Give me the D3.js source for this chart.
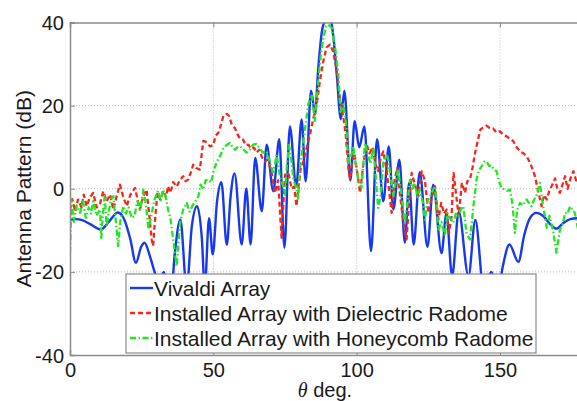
<!DOCTYPE html>
<html>
<head>
<meta charset="utf-8">
<script src="https://cdn.jsdelivr.net/npm/d3@7"></script>
<style>
  html, body { margin: 0; padding: 0; background: #fff; }
  svg { display: block; }
  text { font-family: "Liberation Sans", Arial, Helvetica, sans-serif; fill: #1a1a1a; }
</style>
</head>
<body>
<svg id="chart" width="577" height="401"></svg>
<script>
// ---------------- data ----------------
const xTicks = [0, 50, 100, 150];
const yTicks = [-40, -20, 0, 20, 40];
const seriesNames = ["Vivaldi Array", "Installed Array with Dielectric Radome", "Installed Array with Honeycomb Radome"];

const vivaldiTheta = [0,2,4.5,7,10.8,13.5,16.7,19,21,23,24.8,26,28,30,31.2,32.7,34.8,36.5,38.5,40.7,42.5,44.3,46,47,48.5,49.8,51.3,52.8,54.7,56,57.4,59.9,61.5,63,64.6,66.9,68.6,70.9,73,74.8,76.7,78.9,80.8,82.2,84.1,85.5,86.5,87.8,89,90,91,91.8,93,94.5,95.7,97.8,99.3,100.9,102.7,105,107.1,109.3,111.2,112.8,114.9,116.8,118.3,119.9,122,124.7,126.7,129.6,131.3,133.3,135.6,139,141.4,144.3,147,149.3,151,153.3,156.4,158.5,160.5,162.7,165,167.5,169.7,172,174.5,177,180];
const vivaldiDb = [-7.5,-7.3,-7.6,-8.5,-9.8,-8,-5.7,-7.5,-12,-17.8,-14,-13,-16.5,-21,-22.5,-20,-30,-16,-7.4,-24,-9,-4.2,-12,-24,-7.1,-15.8,-3,1.6,-13.5,-2,3.7,-13.4,0,-13.4,7.4,-5.4,10.6,-0.6,11.9,-14.2,15,0.5,16.7,1.8,23.6,18,28,37.5,40.5,41,40.5,37,28,16.7,23.6,2,16.3,10,15,-15,11.9,-3,10.2,-5,7,-13,1.4,-13.4,4,-14,1,-15.5,-6,-21,-5.5,-21,-7.5,-24,-20,-25,-18.6,-13.4,-17.6,-11,-7,-5.8,-6.5,-8.5,-9.6,-8.3,-7.3,-7.1,-7.5];

const dielectricTheta = [0,0.8,1.8,2.8,4,4.8,5.8,7,8.1,9.3,10.5,11.6,12.8,14,15.1,16.2,17.4,18.6,19.8,21,22.7,23.7,24.4,25.5,26.7,27.6,28.5,29,29.6,30.5,31.5,32.5,33.5,34.2,35,36,37.2,38.3,39.5,40.3,41.2,42.2,43,44,45.3,46.5,47.7,48.8,50,50.8,51.8,52.7,53.5,54.7,55.5,56.4,57.6,58.5,59.5,60.4,61.3,62.2,63.2,64.2,65.1,66,67,68,69,70.3,71.5,72.6,73.8,75,76.2,77.3,78.2,79,79.8,80.5,81.4,82.6,83.7,84.9,86,87.2,88.3,89.5,90.7,91.8,93,94.2,95.3,96.2,97.1,97.7,98.4,99.2,100.2,101.2,102.3,103.5,104.5,105.5,106.5,107.5,108.4,109.3,110.4,111.4,112.2,113.2,114.2,115.2,116.3,117.4,118.3,119.2,120.3,121.5,122.7,123.8,125,126.2,127.3,128.5,129.5,130.5,131.4,132.2,133.1,133.8,134.9,135.6,136.7,137.8,138.6,139.5,140.4,141.3,142.4,143.2,144.2,145.3,146.4,147.6,148.8,150,151.2,152.3,153.5,154.6,155.8,157,158.2,159.3,160.3,161.2,162.2,163.3,164.5,165.4,166.3,167.2,168,169.2,170,170.9,171.8,172.7,173.6,174.6,175.6,176.8,178,179,180];
const dielectricDb = [-5,-2.5,-5.5,-2.6,-4.5,-1.4,-4.2,-2,-1,-4.5,-3.5,-0.6,-3,-1.4,-5,-2,1,-2,-4.2,-1.5,0.2,-3,-5,-2,-0.2,-6,-12.2,-13.8,-8,-1,-2.6,-0.5,-2,0.6,-1,1.6,0.5,2,3,1.8,2.2,4,5.8,5,4.6,11.5,11.2,10.2,10.5,12.8,13.5,15.5,17.5,18,17.5,15.5,14.5,13,11.9,11.8,10.5,10.6,9.6,9.9,8.7,9.4,7.5,6.6,7,4,-1,2,-11.8,3.4,3.8,0,0.5,-4.2,1,5,6.5,10,13,17,20,26,30.5,34,34.7,33,28.5,21.5,17.5,13,5,2.4,6,8.5,4,-1,6,10.6,8.5,10,6,4.2,7.5,9,4.6,-1,-5.8,2,5,-2,-8,-12.2,-3,3.8,1,-1.8,4.2,2,-5.8,-2,0.6,-7.4,-3.4,-6,-5,-10.6,-6.6,3.8,-2.6,-6.6,1.4,-1,1.8,2.2,5,8.6,12,14.3,14.8,15.2,14.6,14.5,13.5,13.8,13,12.6,12,11.5,10,9,8.5,7.8,6.5,5,3,-0.6,-4.2,-1.5,-2.6,-0.5,0.6,2.5,0,-1,1,3,0,2.5,4.2,1.4,3.5,0.5,2];

const honeycombTheta = [0,0.5,1.3,2.3,3.5,4.5,5.5,6.5,7.3,8.1,9.2,10.5,10.9,11.5,12.1,12.8,13.7,14.3,15.1,16,16.8,17.5,18.6,19.5,20.5,21.5,22.5,23.5,24.5,25.6,26.5,27.4,28.5,29.5,30.7,31.6,32.5,33.4,34.2,35,36,37.2,38.4,39.5,40.7,41.7,42.8,43.8,44.8,45.5,46.5,47.3,48.2,49.2,50.2,51.2,52.3,53.5,54.6,55.8,56.7,57.6,58.5,59.3,60.4,61.6,62.8,63.9,65.1,66.3,67.4,68.6,69.8,70.8,71.5,72.1,73.2,74.4,75,75.6,76.4,77.2,78,79,79.6,80.2,81.4,82.3,83.1,84.3,85.4,86.6,87.6,88.4,89.3,90.1,91.3,92.5,93.6,94.4,95.4,96.4,97.1,98.2,98.8,99.6,100.6,101.7,102.9,104,104.8,105.8,106.6,107.5,108.3,109.3,110.4,111,112,112.8,113.7,114.5,115.7,116.8,117.8,118.6,119.5,120.3,121.2,122,123,123.8,124.7,125.6,126.5,127.3,128,128.5,129.6,130.8,131.6,132.5,133.7,134.6,135.5,136.3,137.2,138.3,139.5,140.2,140.7,141.3,141.8,142.7,143.6,144.5,145.3,146.2,147,148,148.8,149.6,150.5,151.7,152.6,153.5,154.4,155.2,156,157,158,159.3,160.2,161,162,162.7,163.9,165,165.7,166.3,167.3,168.5,169.7,170.9,172,172.7,173.6,174.4,175.3,176.1,177,178,179,180];
const honeycombDb = [-15.4,-2.6,-8,-4,-5.8,-3,-7,-4.5,-6,-3,-6.5,-5,-12.2,-6,-1.8,-9,-5,-2.5,-1.8,-8,-13.8,-8,-4.2,-6,-4.5,-7,-6.6,-3,-5,-0.2,-4,-9.8,-6,-2.5,-0.5,-3,-0.2,-2,-5,-7,-12.2,-18.6,-8.2,-5,-3.4,-5.5,-4,-3,-1.8,1,-0.2,2,2.2,1.5,4.5,6.5,7.8,9.8,10.5,11,10,9.4,10,10.2,9.5,8.7,9.5,10.6,10.8,9.5,8.7,9,6.2,4,6,8.2,3,0.6,-1.4,5,10.5,7,2,0.2,-2.6,5,11.4,16,20.3,22.7,16.3,25.9,33,36.3,39,39.5,38.7,33.9,27.5,18.5,20.3,15,6.2,8.2,10.2,6,2.2,0.2,11,8,6,9.9,3.4,-4.6,-2,6.6,8,7,2,-1.8,2,4.6,-2,-8.2,-3,2.2,0,1.4,-2,-0.2,-3,-7.4,-3,-1.8,-0.5,0.6,-5,-9.8,-8,-11.4,-5.8,-7,-8.2,-6,-6.6,-5,-4.2,-10.6,-12.2,-8,-4.2,-1,2.2,4.5,5.4,6.5,6.6,5.5,5.6,4.6,4.2,2,0.2,-0.2,-0.5,-0.2,-4,-10.6,-5,-3.4,-4,-2.6,-3.5,-4.2,-2.5,-1.8,1.4,-4.2,-6.6,-9.4,-6.5,-10,-15.4,-9.8,-8.2,-5.8,-6,-4.2,-5,-5.8,-9,-12,-6,-5];

// ---------------- layout ----------------
const W = 577, H = 401;
const plot = { left: 70, right: 586, top: 22.5, bottom: 355 };

const x = d3.scaleLinear().domain([0, 180]).range([plot.left, plot.right]);
const y = d3.scaleLinear().domain([-40, 40]).range([plot.bottom, plot.top]);

const svg = d3.select("#chart");

svg.append("defs").append("clipPath").attr("id", "plotClip")
  .append("rect")
  .attr("x", plot.left).attr("y", plot.top)
  .attr("width", plot.right - plot.left).attr("height", plot.bottom - plot.top);

// grid
const grid = svg.append("g");
grid.selectAll("line.gx").data(xTicks.filter(t => t > 0)).join("line")
  .attr("x1", d => x(d)).attr("x2", d => x(d))
  .attr("y1", plot.top).attr("y2", plot.bottom)
  .attr("stroke", "#b8b8b8").attr("stroke-width", 1).attr("stroke-dasharray", "1,2");
grid.selectAll("line.gy").data(yTicks.filter(t => t > -40 && t < 40)).join("line")
  .attr("x1", plot.left).attr("x2", plot.right)
  .attr("y1", d => y(d)).attr("y2", d => y(d))
  .attr("stroke", "#b8b8b8").attr("stroke-width", 1).attr("stroke-dasharray", "1,2");

// series
const series = [
  { theta: vivaldiTheta, db: vivaldiDb, color: "#1638ee", dash: null, curve: d3.curveMonotoneX, width: 2.4 },
  { theta: dielectricTheta, db: dielectricDb, color: "#f2281c", dash: "5,3", curve: d3.curveLinear, width: 2.3 },
  { theta: honeycombTheta, db: honeycombDb, color: "#22e622", dash: "6,2.5,1.5,2.5", curve: d3.curveLinear, width: 2.3 }
];

const lines = svg.append("g").attr("clip-path", "url(#plotClip)");
series.forEach(s => {
  const pts = s.theta.map((t, i) => [t, s.db[i]]);
  const gen = d3.line().x(d => x(d[0])).y(d => y(d[1])).curve(s.curve);
  lines.append("path")
    .attr("d", gen(pts))
    .attr("fill", "none")
    .attr("stroke", s.color)
    .attr("stroke-width", s.width)
    .attr("stroke-linejoin", "round")
    .attr("stroke-dasharray", s.dash);
});

// axes
const axisColor = "#8a8a8a";
const fmt = d => String(d);
const xAxis = d3.axisBottom(x).tickValues(xTicks).tickSize(-5).tickPadding(8).tickFormat(fmt);
const yAxis = d3.axisLeft(y).tickValues(yTicks).tickSize(-5).tickPadding(6).tickFormat(fmt);
const xTop = d3.axisTop(x).tickValues(xTicks).tickSize(-5).tickFormat("");

const gx = svg.append("g").attr("transform", `translate(0,${plot.bottom})`).call(xAxis);
const gy = svg.append("g").attr("transform", `translate(${plot.left},0)`).call(yAxis);
const gt = svg.append("g").attr("transform", `translate(0,${plot.top})`).call(xTop);

[gx, gy, gt].forEach(g => {
  g.select(".domain").attr("stroke", axisColor).attr("stroke-width", 1.5);
  g.selectAll(".tick line").attr("stroke", axisColor).attr("stroke-width", 1);
  g.selectAll(".tick text").attr("font-size", 20).attr("fill", "#1a1a1a")
    .attr("font-family", '"Liberation Sans", Arial, sans-serif');
});
gx.selectAll(".tick text").attr("dy", "0.72em");
gy.selectAll(".tick text").attr("dy", "0.35em");

// axis labels
svg.append("text")
  .attr("transform", `translate(24,${(plot.top + plot.bottom) / 2}) rotate(-90)`)
  .attr("text-anchor", "middle").attr("dy", "0.35em")
  .attr("font-size", 21)
  .text("Antenna Pattern (dB)");

const xl = svg.append("text")
  .attr("x", 325).attr("y", 397)
  .attr("text-anchor", "middle")
  .attr("font-size", 20);
xl.append("tspan").attr("font-style", "italic").attr("font-family", '"Liberation Serif", "DejaVu Serif", serif').text("θ");
xl.append("tspan").text(" deg.");

// legend
const lg = svg.append("g");
lg.append("rect")
  .attr("x", 126).attr("y", 274).attr("width", 410).attr("height", 79)
  .attr("fill", "#fff").attr("stroke", "#8a8a8a").attr("stroke-width", 1.2);
series.forEach((s, i) => {
  const yy = 288 + i * 25;
  lg.append("line")
    .attr("x1", 130).attr("x2", 153).attr("y1", yy).attr("y2", yy)
    .attr("stroke", s.color).attr("stroke-width", s.width)
    .attr("stroke-dasharray", s.dash);
  lg.append("text")
    .attr("x", 154).attr("y", yy + 8)
    .attr("font-size", 21)
    .text(seriesNames[i]);
});
</script>
</body>
</html>
